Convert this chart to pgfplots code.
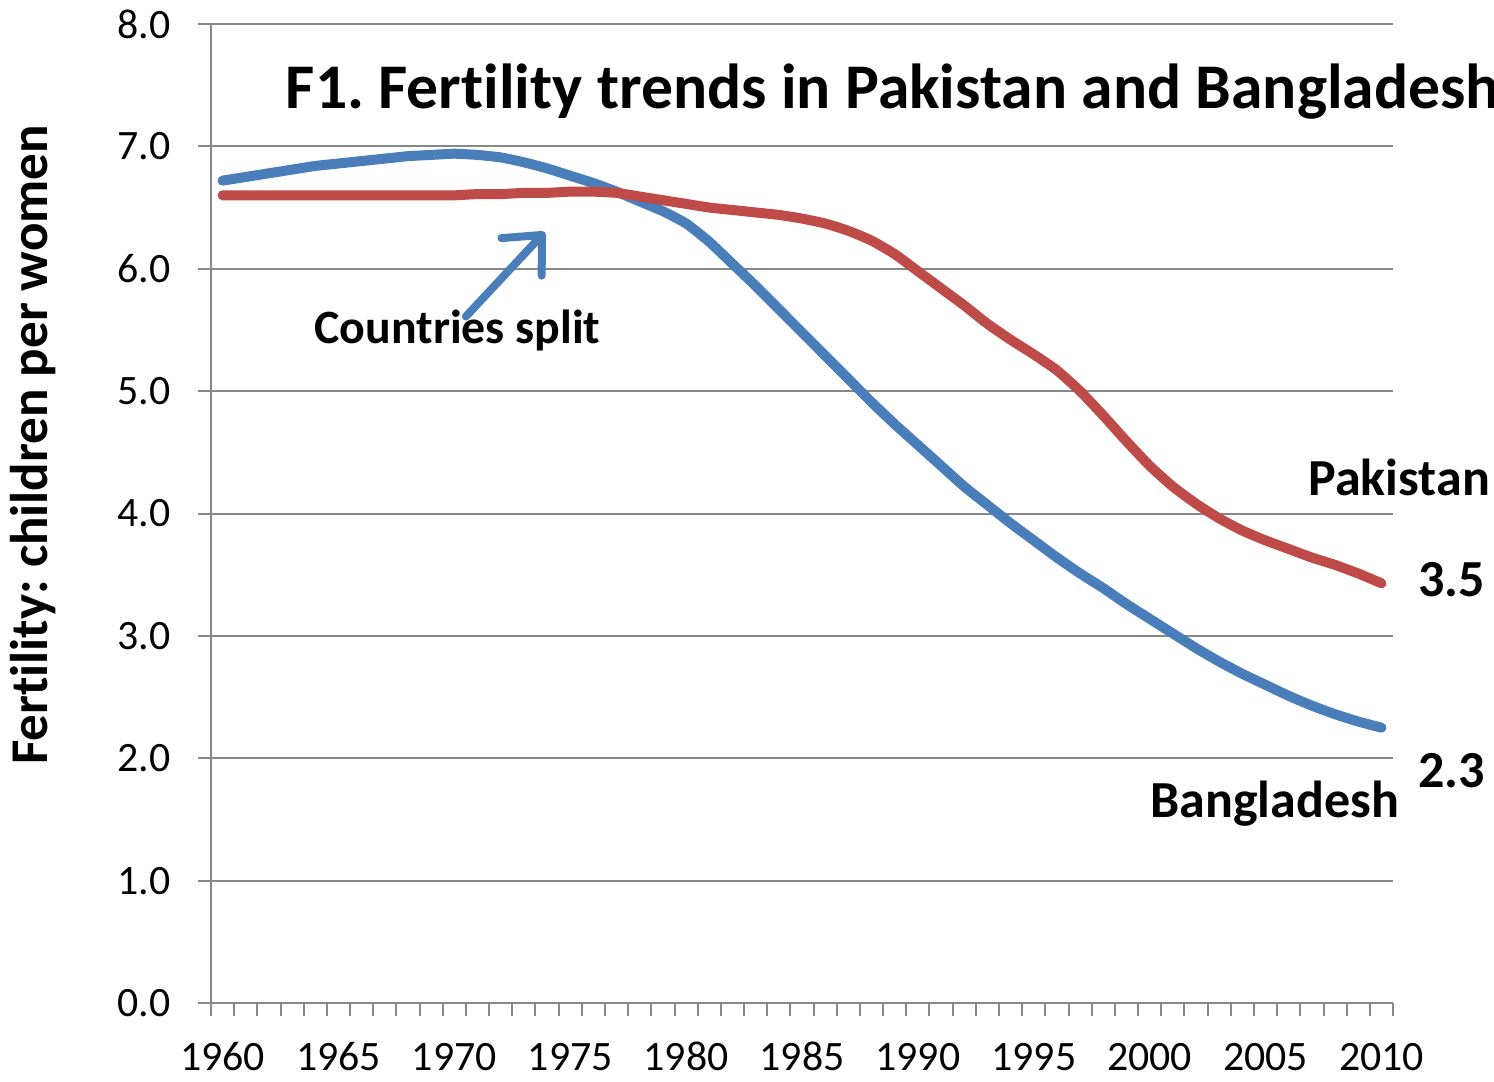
\documentclass[border=0pt]{standalone}
\usepackage{pgfplots}
\pgfplotsset{compat=1.18}
\usetikzlibrary{arrows.meta}
\usepackage{fontspec}
\setmainfont[Ligatures=NoCommon]{Carlito}
\definecolor{bdblue}{HTML}{4A7EBB}
\definecolor{pkred}{HTML}{BE4B48}
\definecolor{gridgray}{HTML}{888888}

\pgfplotstableread{
year bd pk
1960 6.72 6.60
1961 6.75 6.60
1962 6.78 6.60
1963 6.81 6.60
1964 6.84 6.60
1965 6.86 6.60
1966 6.88 6.60
1967 6.90 6.60
1968 6.92 6.60
1969 6.93 6.60
1970 6.94 6.60
1971 6.93 6.61
1972 6.91 6.61
1973 6.87 6.62
1974 6.82 6.62
1975 6.76 6.63
1976 6.70 6.63
1977 6.63 6.62
1978 6.55 6.59
1979 6.47 6.56
1980 6.37 6.53
1981 6.22 6.50
1982 6.04 6.48
1983 5.86 6.46
1984 5.67 6.44
1985 5.48 6.41
1986 5.29 6.37
1987 5.10 6.31
1988 4.91 6.23
1989 4.73 6.12
1990 4.56 5.98
1991 4.39 5.84
1992 4.22 5.70
1993 4.07 5.55
1994 3.92 5.42
1995 3.78 5.30
1996 3.64 5.17
1997 3.51 5.00
1998 3.39 4.80
1999 3.26 4.59
2000 3.14 4.39
2001 3.02 4.22
2002 2.90 4.08
2003 2.79 3.96
2004 2.69 3.86
2005 2.60 3.78
2006 2.51 3.71
2007 2.43 3.64
2008 2.36 3.58
2009 2.30 3.51
2010 2.25 3.43
}\fert

\begin{document}
\frenchspacing
\begin{tikzpicture}
\begin{axis}[
    width=11.82cm, height=9.79cm, scale only axis,
    xmin=1959.5, xmax=2010.5,
    ymin=0, ymax=8,
    axis x line*=bottom, axis y line*=left,
    axis line style={-, gridgray, line width=0.02cm},
    tick align=outside,
    major tick length=0.13cm,
    tick style={gridgray, line width=0.02cm},
    xtick={1959.5,1960.5,...,2010.5},
    xticklabels={},
    extra x ticks={1960,1965,1970,1975,1980,1985,1990,1995,2000,2005,2010},
    extra x tick labels={1960,1965,1970,1975,1980,1985,1990,1995,2000,2005,2010},
    extra x tick style={major tick length=0pt},
    x tick label style={yshift=-0.3cm, text height=1.5ex, text depth=0pt},
    ytick={0,1,...,8},
    ymajorgrids,
    grid style={gridgray, line width=0.02cm},
    /pgf/number format/assume math mode=true,
    y tick label style={xshift=-0.15cm, /pgf/number format/fixed, /pgf/number format/fixed zerofill, /pgf/number format/precision=1},
    tick label style={font=\fontsize{11.9}{14}\selectfont},
    ylabel={Fertility: children per women},
    ylabel style={font=\bfseries\fontsize{15.1}{18}\selectfont, at={(rel axis cs:-0.1506,0.57)}, anchor=center},
    clip=false,
]
\addplot[bdblue, line width=0.1cm, line cap=round, line join=round, smooth, tension=0.3] table[x=year, y=bd] {\fert};
\addplot[pkred, line width=0.1cm, line cap=round, line join=round, smooth, tension=0.3] table[x=year, y=pk] {\fert};

\node[anchor=base west, inner sep=0pt, font=\bfseries\fontsize{18.1}{22}\selectfont] at (axis cs:1962.7,7.31) {F1. Fertility trends in Pakistan and Bangladesh};
\node[anchor=base west, inner sep=0pt, font=\bfseries\fontsize{13.6}{16}\selectfont] at (axis cs:1963.94,5.39) {Countries split};
\draw[bdblue, line width=0.08cm, line cap=round, -{Straight Barb[length=0.3cm, width=0.55cm, round]}] (axis cs:1970.5,5.61) -- (axis cs:1973.9,6.30);
\node[anchor=base west, inner sep=0pt, font=\bfseries\fontsize{14.8}{18}\selectfont] at (axis cs:2006.82,4.15) {Pakistan};
\node[anchor=base west, inner sep=0pt, font=\bfseries\fontsize{14.8}{18}\selectfont] at (axis cs:2011.57,3.32) {3.5};
\node[anchor=base west, inner sep=0pt, font=\bfseries\fontsize{14.8}{18}\selectfont] at (axis cs:2011.57,1.76) {2.3};
\node[anchor=base west, inner sep=0pt, font=\bfseries\fontsize{14.8}{18}\selectfont] at (axis cs:2000.0,1.52) {Bangladesh};

\coordinate (bbsw) at (rel axis cs:-0.1785,-0.0797);
\coordinate (bbne) at (rel axis cs:1.0854,1.0245);
\end{axis}
\pgfresetboundingbox
\path[use as bounding box] (bbsw) rectangle (bbne);
\end{tikzpicture}
\end{document}
